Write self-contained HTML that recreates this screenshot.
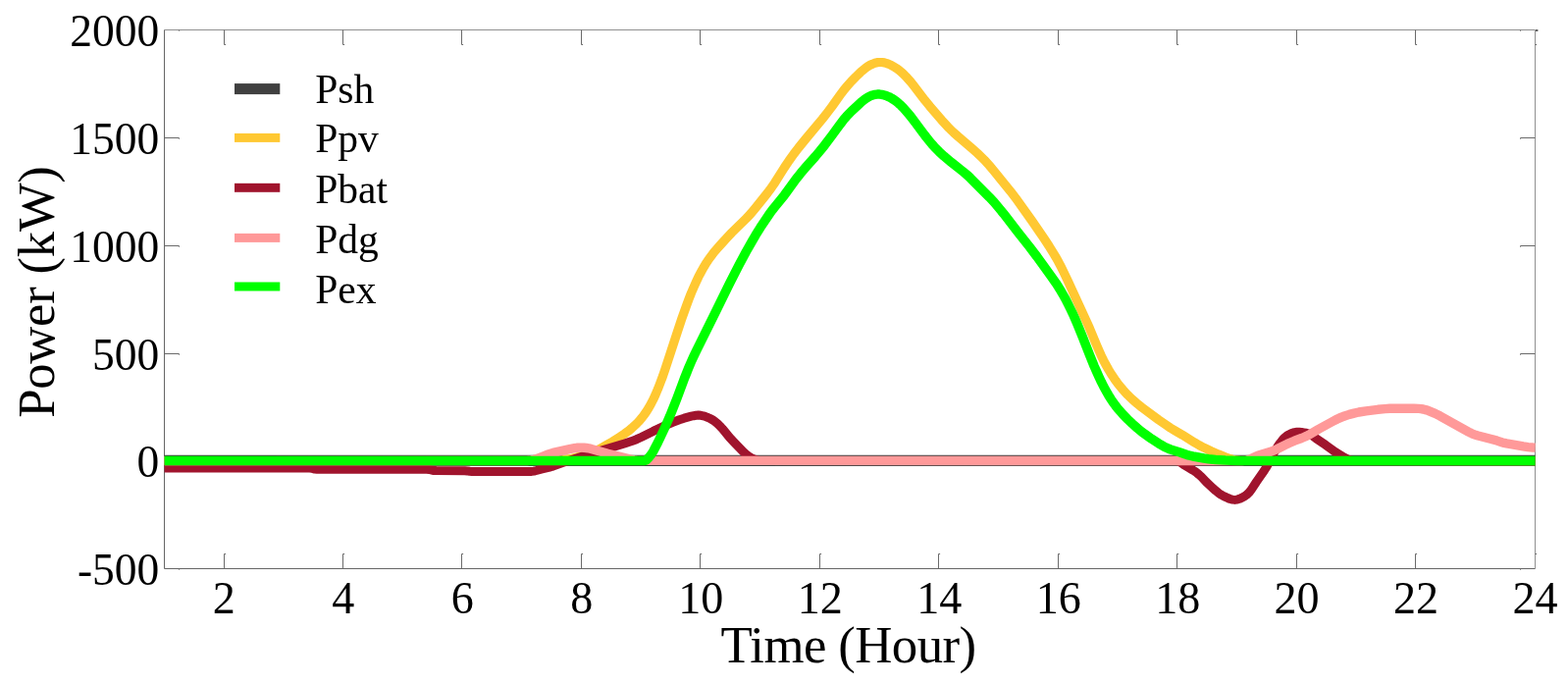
<!DOCTYPE html>
<html lang="en"><head><meta charset="utf-8"><title>Power vs Time</title>
<style>
html,body{margin:0;padding:0;background:#fff;}
body{width:1598px;height:696px;overflow:hidden;}
svg{display:block;}
</style></head><body>
<svg width="1598" height="696" viewBox="0 0 1598 696">
<rect width="1598" height="696" fill="#fff"/>
<g fill="none" stroke-width="1">
<path d="M167.5 30.5H1564.5V579.5" stroke="#909090"/>
<path d="M167.5 30.5V579.5H1564.5" stroke="#666"/>
<path d="M228.5 30.5v15h1.6M228.5 579.5v-15h1.6M349.5 30.5v15h1.6M349.5 579.5v-15h1.6M470.5 30.5v15h1.6M470.5 579.5v-15h1.6M592.5 30.5v15h1.6M592.5 579.5v-15h1.6M713.5 30.5v15h1.6M713.5 579.5v-15h1.6M835.5 30.5v15h1.6M835.5 579.5v-15h1.6M956.5 30.5v15h1.6M956.5 579.5v-15h1.6M1078.5 30.5v15h1.6M1078.5 579.5v-15h1.6M1199.5 30.5v15h1.6M1199.5 579.5v-15h1.6M1321.5 30.5v15h1.6M1321.5 579.5v-15h1.6M1442.5 30.5v15h1.6M1442.5 579.5v-15h1.6M1564.5 45.5h1.6M1564.5 564.5h1.6M182.5 579.5v1.2M1549.5 579.5v1.2M167.5 469.5h15v1.2M1564.5 469.5h-15v1.2M167.5 360.5h15v1.2M1564.5 360.5h-15v1.2M167.5 250.5h15v1.2M1564.5 250.5h-15v1.2M167.5 140.5h15v1.2M1564.5 140.5h-15v1.2M182.5 30.5v1.2M1549.5 30.5v1.2" stroke="#6a6a6a"/>
<rect x="1565" y="30.3" width="2.4" height="1.4" fill="#222"/>
</g>
<g fill="none" stroke-linejoin="round" stroke-linecap="butt">
<path d="M167.6 469.3L1564.6 469.3" stroke="#404040" stroke-width="11.2"/>
<path d="M167.6 469.6L563.6 469.5L568.5 469.3L573.3 468.9L578.2 468.1L583.1 467.2L587.9 466.0L592.8 464.6L597.6 463.1L602.5 461.4L607.4 459.3L609.8 458.2L614.6 455.6L624.4 449.9L631.6 445.3L636.5 442.0L638.9 440.2L641.4 438.4L643.8 436.4L646.2 434.2L648.7 431.9L651.1 429.4L653.5 426.6L655.9 423.5L658.4 420.0L660.8 416.2L663.2 411.9L665.7 407.2L668.1 402.0L670.5 396.3L672.9 390.1L675.4 383.5L677.8 376.5L690.0 339.2L694.8 324.8L699.7 311.1L702.1 304.7L704.5 298.5L707.0 292.7L709.4 287.3L711.8 282.2L714.3 277.5L716.7 273.1L719.1 269.1L721.5 265.4L724.0 261.9L726.4 258.7L728.8 255.7L733.7 250.1L741.0 242.1L745.8 237.0L760.4 222.7L762.8 220.2L765.3 217.5L770.1 211.7L782.3 196.5L784.7 193.3L787.1 189.9L789.6 186.3L799.3 170.9L804.1 163.7L809.0 156.9L813.9 150.5L821.2 141.5L838.2 121.1L843.0 115.0L847.9 108.5L857.6 94.9L860.0 91.7L862.5 88.7L864.9 85.9L867.3 83.2L872.2 78.2L877.0 73.6L879.5 71.5L881.9 69.5L884.3 67.8L886.8 66.3L889.2 65.2L891.6 64.3L894.0 63.7L896.5 63.5L898.9 63.5L901.3 63.9L903.8 64.6L906.2 65.5L908.6 66.7L911.0 68.0L913.5 69.6L915.9 71.3L918.3 73.3L920.8 75.5L923.2 77.9L925.6 80.6L928.1 83.4L930.5 86.4L942.6 102.2L947.5 108.2L959.6 122.3L964.5 127.7L966.9 130.3L969.4 132.7L971.8 135.0L976.6 139.3L991.2 151.8L996.1 156.1L1000.9 160.7L1003.4 163.2L1005.8 165.8L1008.2 168.5L1013.1 174.4L1030.1 195.3L1035.0 201.7L1052.0 225.5L1064.1 243.2L1069.0 250.6L1073.8 258.4L1076.3 262.5L1078.7 266.8L1081.1 271.4L1083.5 276.2L1088.4 286.5L1107.8 328.6L1110.3 334.2L1117.6 351.7L1120.0 357.3L1122.4 362.7L1124.8 367.6L1127.3 372.2L1129.7 376.5L1132.1 380.5L1134.6 384.3L1137.0 387.8L1139.4 391.1L1141.9 394.1L1144.3 397.0L1146.7 399.7L1149.1 402.3L1151.6 404.7L1154.0 407.0L1158.9 411.2L1163.7 415.1L1180.7 427.7L1188.0 432.8L1192.9 436.1L1197.7 439.0L1205.0 443.2L1217.2 450.8L1222.0 453.6L1226.9 456.2L1234.2 459.7L1241.5 462.9L1248.8 465.8L1253.6 467.5L1256.0 468.2L1258.5 468.7L1260.9 469.1L1263.3 469.3L1268.2 469.5L1564.6 469.6" stroke="#FFC832" stroke-width="9.2"/>
<path d="M167.6 476.9L313.4 476.9L315.8 477.0L318.2 477.4L320.7 478.0L323.1 478.2L434.9 478.2L437.3 478.4L442.1 479.5L444.6 479.6L473.7 479.7L476.2 479.9L478.6 480.3L481.0 480.5L539.3 480.5L541.8 480.4L544.2 480.1L546.6 479.5L551.5 478.1L561.2 475.8L563.6 475.1L573.3 471.6L595.2 464.4L636.5 452.0L643.8 449.6L648.7 447.7L653.5 445.5L665.7 439.4L680.2 432.6L685.1 430.5L692.4 427.8L697.2 426.2L704.5 424.2L707.0 423.7L709.4 423.3L711.8 423.1L714.3 423.3L716.7 423.8L719.1 424.6L721.5 425.5L724.0 426.6L726.4 428.0L728.8 429.7L731.3 431.7L733.7 434.1L736.1 436.7L741.0 442.7L743.4 445.6L748.3 450.8L758.0 460.8L760.4 463.0L762.8 464.9L765.3 466.4L767.7 467.6L770.1 468.5L772.6 469.2L775.0 469.5L1197.7 469.6L1200.2 469.8L1202.6 470.8L1207.5 474.2L1209.9 475.7L1214.7 478.5L1217.2 480.0L1219.6 481.7L1222.0 483.7L1224.5 486.0L1229.3 491.1L1234.2 495.7L1239.0 500.1L1241.5 502.1L1243.9 503.8L1246.3 505.2L1248.8 506.4L1251.2 507.5L1253.6 508.5L1256.0 509.1L1258.5 509.4L1260.9 509.1L1263.3 508.3L1265.8 507.2L1268.2 505.8L1270.6 504.1L1273.1 501.8L1275.5 498.6L1280.3 491.2L1287.6 480.7L1290.1 476.9L1292.5 472.7L1297.3 463.2L1299.8 458.8L1302.2 454.9L1304.6 451.4L1307.1 448.2L1309.5 445.7L1311.9 443.8L1314.4 442.5L1316.8 441.3L1319.2 440.6L1321.6 440.3L1324.1 440.3L1326.5 440.5L1328.9 440.9L1331.4 441.3L1333.8 442.0L1336.2 443.2L1338.7 444.9L1341.1 446.7L1350.8 453.3L1358.1 458.6L1360.5 460.3L1370.2 466.3L1372.7 467.6L1375.1 468.6L1377.5 469.3L1380.0 469.5L1564.6 469.6" stroke="#A0142D" stroke-width="9.0"/>
<path d="M167.6 469.6L534.5 469.5L536.9 469.5L539.3 469.3L541.8 468.9L544.2 468.3L546.6 467.6L553.9 464.9L558.8 463.0L561.2 462.2L563.6 461.4L580.6 457.6L585.5 456.7L587.9 456.3L590.3 456.1L592.8 456.1L595.2 456.3L597.6 456.5L600.1 456.9L602.5 457.4L619.5 462.2L643.8 468.2L646.2 468.8L648.7 469.2L651.1 469.4L1265.8 469.5L1268.2 469.4L1270.6 469.1L1273.1 468.4L1275.5 467.3L1280.3 464.9L1282.8 464.0L1287.6 462.4L1294.9 460.2L1297.3 459.4L1299.8 458.4L1302.2 457.3L1311.9 452.4L1314.4 451.3L1319.2 449.2L1326.5 446.5L1328.9 445.5L1331.4 444.4L1333.8 443.2L1343.5 437.5L1358.1 429.5L1362.9 427.0L1365.4 425.9L1367.8 424.9L1370.2 424.0L1375.1 422.4L1380.0 421.1L1384.8 420.0L1392.1 418.8L1404.2 417.3L1411.5 416.6L1416.4 416.3L1440.7 416.2L1445.6 416.4L1448.0 416.6L1450.4 417.0L1452.8 417.6L1455.3 418.3L1457.7 419.3L1462.6 421.4L1467.4 423.8L1496.6 440.1L1499.0 441.3L1501.4 442.4L1503.9 443.3L1506.3 444.0L1520.9 447.7L1525.7 449.1L1530.6 450.7L1533.0 451.4L1535.4 451.9L1552.5 454.9L1557.3 455.6L1562.2 456.0L1564.6 456.1" stroke="#FF9999" stroke-width="9.4"/>
<path d="M167.6 469.6L655.9 469.6L658.4 469.1L660.8 466.7L663.2 463.8L665.7 460.0L670.5 450.8L672.9 445.8L677.8 435.2L682.7 424.0L685.1 418.1L690.0 405.7L697.2 386.3L699.7 380.1L702.1 374.1L704.5 368.5L707.0 363.0L709.4 357.9L728.8 318.9L743.4 289.2L753.1 270.2L760.4 256.5L765.3 247.8L770.1 239.6L775.0 231.7L779.9 224.3L784.7 217.3L787.1 214.0L789.6 210.8L799.3 198.9L801.7 195.7L811.4 182.3L813.9 179.2L816.3 176.1L821.2 170.4L830.9 159.5L835.7 153.8L840.6 147.7L847.9 138.0L855.2 128.0L857.6 124.8L860.0 121.7L862.5 118.8L864.9 116.2L867.3 113.7L874.6 106.9L877.0 104.7L879.5 102.6L881.9 100.7L884.3 99.2L886.8 97.9L889.2 97.0L891.6 96.4L894.0 96.1L896.5 96.1L898.9 96.4L901.3 97.0L903.8 97.8L906.2 98.8L908.6 100.1L911.0 101.6L913.5 103.4L915.9 105.4L918.3 107.6L920.8 110.1L923.2 112.8L925.6 115.6L928.1 118.6L932.9 125.0L942.6 138.0L947.5 144.1L949.9 147.0L952.3 149.7L954.8 152.3L957.2 154.7L962.1 159.2L969.4 165.3L981.5 174.9L986.4 179.0L988.8 181.3L1008.2 200.8L1013.1 206.0L1017.9 211.7L1022.8 217.7L1037.4 236.7L1049.5 251.9L1056.8 261.5L1071.4 281.7L1076.3 288.7L1078.7 292.4L1081.1 296.3L1083.5 300.5L1086.0 304.9L1088.4 309.6L1090.8 314.5L1093.3 319.6L1095.7 325.0L1098.1 330.7L1103.0 342.6L1110.3 361.2L1115.1 373.1L1117.6 378.7L1120.0 384.1L1122.4 389.2L1124.8 394.0L1127.3 398.5L1129.7 402.7L1132.1 406.6L1134.6 410.2L1137.0 413.5L1139.4 416.6L1141.9 419.4L1144.3 422.1L1149.1 427.1L1154.0 431.8L1158.9 436.1L1163.7 440.1L1168.6 443.7L1173.4 447.1L1180.7 451.8L1185.6 454.7L1188.0 455.9L1190.4 457.0L1192.9 458.0L1202.6 461.1L1207.5 462.8L1209.9 463.6L1212.3 464.2L1217.2 465.3L1226.9 467.0L1231.7 467.7L1239.0 468.5L1248.8 469.1L1260.9 469.5L1564.6 469.6" stroke="#00FF00" stroke-width="9.5"/>
</g>
<g>
<rect x="239" y="85.1" width="46.3" height="11.0" fill="#404040"/>
<rect x="239" y="135.9" width="46.3" height="9.0" fill="#FFC832"/>
<rect x="239" y="186.8" width="46.3" height="9.0" fill="#A0142D"/>
<rect x="239" y="237.9" width="46.3" height="9.0" fill="#FF9999"/>
<rect x="239" y="287.5" width="46.3" height="9.0" fill="#00FF00"/>
</g>
<g font-family="'Liberation Serif', serif" fill="#000">
<g font-size="41.5">
<text x="321.2" y="105.0">Psh</text>
<text x="321.2" y="155.0">Ppv</text>
<text x="321.2" y="206.6">Pbat</text>
<text x="321.2" y="257.7">Pdg</text>
<text x="321.2" y="309.2">Pex</text>
</g>
<g font-size="47.3" text-anchor="middle">
<text transform="translate(228.3,624.5) scale(0.975,1)">2</text>
<text transform="translate(349.8,624.5) scale(0.975,1)">4</text>
<text transform="translate(471.3,624.5) scale(0.975,1)">6</text>
<text transform="translate(592.8,624.5) scale(0.975,1)">8</text>
<text transform="translate(714.3,624.5) scale(0.975,1)">10</text>
<text transform="translate(835.7,624.5) scale(0.975,1)">12</text>
<text transform="translate(957.2,624.5) scale(0.975,1)">14</text>
<text transform="translate(1078.7,624.5) scale(0.975,1)">16</text>
<text transform="translate(1200.2,624.5) scale(0.975,1)">18</text>
<text transform="translate(1321.6,624.5) scale(0.975,1)">20</text>
<text transform="translate(1443.1,624.5) scale(0.975,1)">22</text>
<text transform="translate(1564.6,624.5) scale(0.975,1)">24</text>
</g>
<g font-size="47.3" text-anchor="end">
<text transform="translate(162.3,596.0) scale(0.962,1)">-500</text>
<text transform="translate(162.3,486.3) scale(0.962,1)">0</text>
<text transform="translate(162.3,376.5) scale(0.962,1)">500</text>
<text transform="translate(162.3,266.8) scale(0.962,1)">1000</text>
<text transform="translate(162.3,157.0) scale(0.962,1)">1500</text>
<text transform="translate(162.3,47.3) scale(0.962,1)">2000</text>
</g>
<text x="864.5" y="674.7" font-size="52.8" letter-spacing="-0.6" text-anchor="middle">Time (Hour)</text>
<text transform="translate(55,297.6) rotate(-90)" font-size="52.6" letter-spacing="-0.2" text-anchor="middle">Power (kW)</text>
</g>
</svg>
</body></html>
